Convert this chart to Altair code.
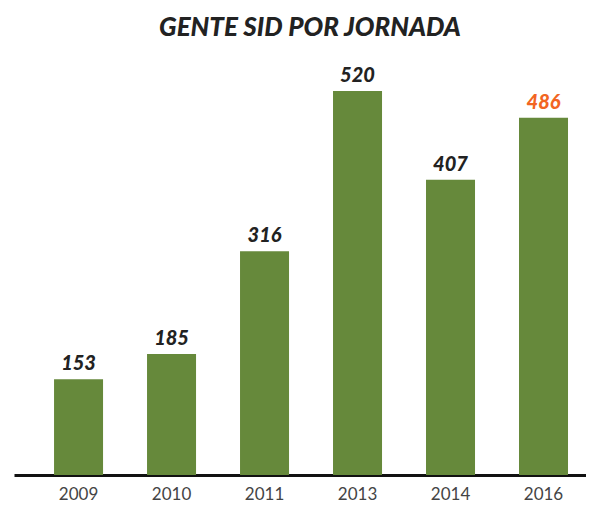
import altair as alt
import pandas as pd

years = ["2009", "2010", "2011", "2013", "2014", "2016"]
values = [153, 185, 316, 520, 407, 486]
label_colors = ["#222222", "#222222", "#222222", "#222222", "#222222", "#f26522"]

df = pd.DataFrame({"year": years, "value": values, "lc": label_colors})

ymin, ymax = 31, 562

x = alt.X("year:N", sort=years, title=None,
          scale=alt.Scale(paddingInner=0.473, paddingOuter=0.312, align=0.69),
          axis=alt.Axis(labelAngle=0, ticks=False, domainColor="#111111", domainWidth=3,
                        labelColor="#444444", labelFont="Lato", labelFontSize=17,
                        labelPadding=11))
y = alt.Y("value:Q", title=None,
          scale=alt.Scale(domain=[ymin, ymax], zero=False, nice=False),
          axis=None)

bars = alt.Chart(df).mark_bar(color="#66893b").encode(x=x, y=y, y2=alt.datum(ymin))
labels = alt.Chart(df).mark_text(baseline="bottom", dy=-5, font="Lato", fontSize=20,
                                 fontWeight=900, fontStyle="italic").encode(
    x=alt.X("year:N", sort=years), y="value:Q", text="value:Q",
    color=alt.Color("lc:N", scale=None))

chart = (bars + labels).properties(
    width=572, height=417,
    autosize=alt.AutoSizeParams(type="none"),
    padding={"left": 6, "top": 50, "right": 0, "bottom": 31},
    title=alt.TitleParams("GENTE SID POR JORNADA", font="Lato", fontSize=26,
                          fontWeight=900, fontStyle="italic", color="#222222",
                          anchor="middle", dx=10, offset=17),
).configure_view(stroke=None)

chart.save("out.html", embed_options={"renderer": "svg", "actions": False})
